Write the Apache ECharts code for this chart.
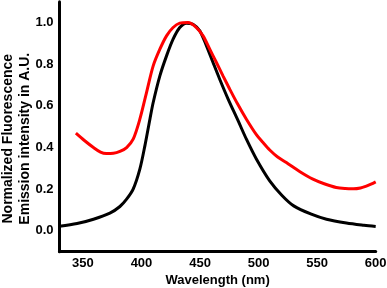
<!DOCTYPE html>
<html>
<head>
<meta charset="utf-8">
<script src="https://cdn.jsdelivr.net/npm/echarts@6/dist/echarts.min.js"></script>
<style>
html,body{margin:0;padding:0;background:#fff;}
#chart{width:387px;height:288px;}
</style>
</head>
<body>
<div id="chart"></div>
<script>
var xTicks = [350, 400, 450, 500, 550, 600];
var yTicks = [0, 0.2, 0.4, 0.6, 0.8, 1.0];

var blackWl = [330, 345, 359, 373, 381.6, 387.3, 392.9, 398.6, 402.9, 407.2, 410, 415.7, 421.4, 427, 432.7, 438.4, 444, 449.8, 455.5, 461.1, 466.8, 473.9, 482.4, 489.6, 498.1, 509.5, 520, 530, 545, 558, 575, 590, 600];
var blackVal = [0.022, 0.035, 0.056, 0.085, 0.117, 0.152, 0.2, 0.296, 0.408, 0.536, 0.616, 0.744, 0.84, 0.92, 0.976, 0.997, 0.992, 0.96, 0.888, 0.808, 0.728, 0.634, 0.53, 0.44, 0.345, 0.24, 0.17, 0.12, 0.08, 0.056, 0.038, 0.027, 0.021];

var redWl = [344, 351, 359, 365, 370, 376, 381.6, 387.3, 392.9, 398.6, 404.3, 410, 415.7, 421.4, 427, 432.7, 439.8, 446.9, 452.6, 458.3, 464, 469.6, 475.4, 482, 489.6, 498.1, 503.6, 509.5, 516, 523.7, 535, 546.4, 556, 566.3, 574, 581, 587, 592, 596, 600];
var redVal = [0.469, 0.435, 0.40, 0.378, 0.371, 0.372, 0.381, 0.40, 0.44, 0.536, 0.664, 0.792, 0.872, 0.936, 0.976, 0.997, 1.0, 0.976, 0.936, 0.872, 0.808, 0.744, 0.68, 0.61, 0.536, 0.462, 0.425, 0.388, 0.356, 0.328, 0.285, 0.248, 0.226, 0.208, 0.203, 0.202, 0.206, 0.215, 0.224, 0.235];

function pairs(xs, ys) {
  var out = [];
  for (var i = 0; i < xs.length; i++) out.push([xs[i], ys[i]]);
  return out;
}

var FONT = '"Liberation Sans", Arial, sans-serif';
var chart = echarts.init(document.getElementById('chart'), null, {renderer: 'canvas'});
chart.setOption({
  animation: false,
  backgroundColor: '#fff',
  grid: {left: 59.5, right: 11.3, top: 1.7, bottom: 36.3, containLabel: false, outerBoundsMode: 'none'},
  xAxis: {
    type: 'value',
    min: 330,
    max: 600,
    name: 'Wavelength (nm)',
    nameLocation: 'middle',
    nameGap: 22,
    nameMoveOverlap: false,
    nameTextStyle: {fontFamily: FONT, fontWeight: 'bold', fontSize: 13, color: '#000'},
    axisLine: {show: true, onZero: false, lineStyle: {color: '#000', width: 3}},
    axisTick: {show: false},
    splitLine: {show: false},
    axisLabel: {
      customValues: xTicks,
      margin: 5,
      fontFamily: FONT, fontWeight: 'bold', fontSize: 13, color: '#000'
    }
  },
  yAxis: {
    type: 'value',
    min: -0.1,
    max: 1.1,
    name: 'Normalized Fluorescence\nEmission intensity in A.U.',
    nameLocation: 'middle',
    nameGap: 26,
    nameMoveOverlap: false,
    nameTextStyle: {fontFamily: FONT, fontWeight: 'bold', fontSize: 14, lineHeight: 16.7, color: '#000', padding: [0, 24, 0, 0]},
    axisLine: {show: true, onZero: false, lineStyle: {color: '#000', width: 3}},
    axisTick: {show: false},
    splitLine: {show: false},
    axisLabel: {
      customValues: yTicks,
      margin: 6,
      formatter: function (v) { return v.toFixed(1); },
      fontFamily: FONT, fontWeight: 'bold', fontSize: 13, color: '#000'
    }
  },
  series: [
    {
      type: 'line', name: 'black', data: pairs(blackWl, blackVal),
      smooth: 0.3, symbol: 'none',
      lineStyle: {color: '#000', width: 3}
    },
    {
      type: 'line', name: 'red', data: pairs(redWl, redVal),
      smooth: 0.3, symbol: 'none',
      lineStyle: {color: '#ff0000', width: 3}
    }
  ]
});
</script>
</body>
</html>
